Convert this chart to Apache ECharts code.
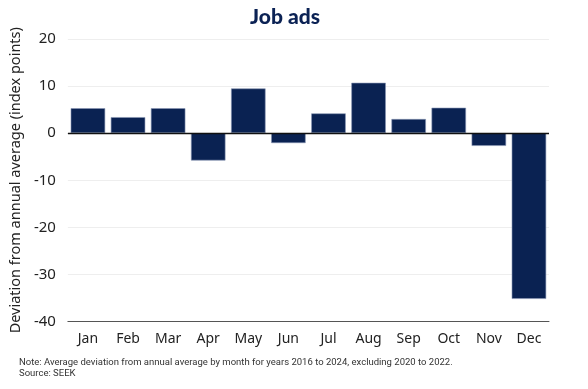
<!DOCTYPE html>
<html><head><meta charset="utf-8">
<script src="https://cdn.jsdelivr.net/npm/echarts@6/dist/echarts.min.js"></script>
<style>html,body{margin:0;padding:0;background:#fff}#c{width:588px;height:389px}</style>
</head><body><div id="c"></div>
<script>
const categories = ['Jan','Feb','Mar','Apr','May','Jun','Jul','Aug','Sep','Oct','Nov','Dec'];
const deviation = [5.3, 3.4, 5.3, -5.8, 9.5, -2.1, 4.2, 10.7, 3.0, 5.4, -2.7, -35.2];
const yTicks = { min: -40, max: 20, interval: 10 };
const titleText = 'Job ads';
const yName = 'Deviation from annual average (index points)';
const noteLines = ['Note: Average deviation from annual average by month for years 2016 to 2024, excluding 2020 to 2022.', 'Source: SEEK'];

const chart = echarts.init(document.getElementById('c'), null, {renderer:'canvas'});
chart.setOption({
  animation: false,
  title: [{
    text: titleText, left: 280, top: 2, textAlign: 'center',
    textStyle: {fontFamily: 'Lato', fontWeight: 900, fontSize: 21, color: '#0b2254'}
  }, {
    text: noteLines.join('\n'), left: 14, top: 352,
    textStyle: {fontFamily: 'Roboto', fontWeight: 'normal', fontSize: 9.5, lineHeight: 11, color: '#333'}
  }],
  grid: {left: 57, right: 39, top: 39, bottom: 67.5},
  xAxis: {
    type: 'category', data: categories,
    axisLine: {onZero: false, lineStyle: {color: '#555', width: 1}},
    axisTick: {show: false},
    axisLabel: {fontFamily: 'Noto Sans', fontSize: 14, color: '#222', margin: 11}
  },
  yAxis: {
    type: 'value', min: yTicks.min, max: yTicks.max, interval: yTicks.interval,
    name: yName, nameLocation: 'middle', nameGap: 41,
    nameTextStyle: {fontFamily: 'Noto Sans', fontSize: 14.5, color: '#222'},
    axisLabel: {fontFamily: 'Noto Sans', fontSize: 15, color: '#222', margin: 12},
    axisLine: {show: false}, axisTick: {show: false},
    splitLine: {lineStyle: {color: '#eeeeee', width: 1}}
  },
  series: [{
    type: 'bar', data: deviation, barWidth: '86%',
    itemStyle: {color: '#0a2252', borderColor: '#8896b3', borderWidth: 0.6},
    markLine: {
      silent: true, symbol: 'none', label: {show: false},
      lineStyle: {color: '#111', width: 1.3, type: 'solid'},
      data: [{yAxis: 0}]
    }
  }]
});
</script></body></html>
